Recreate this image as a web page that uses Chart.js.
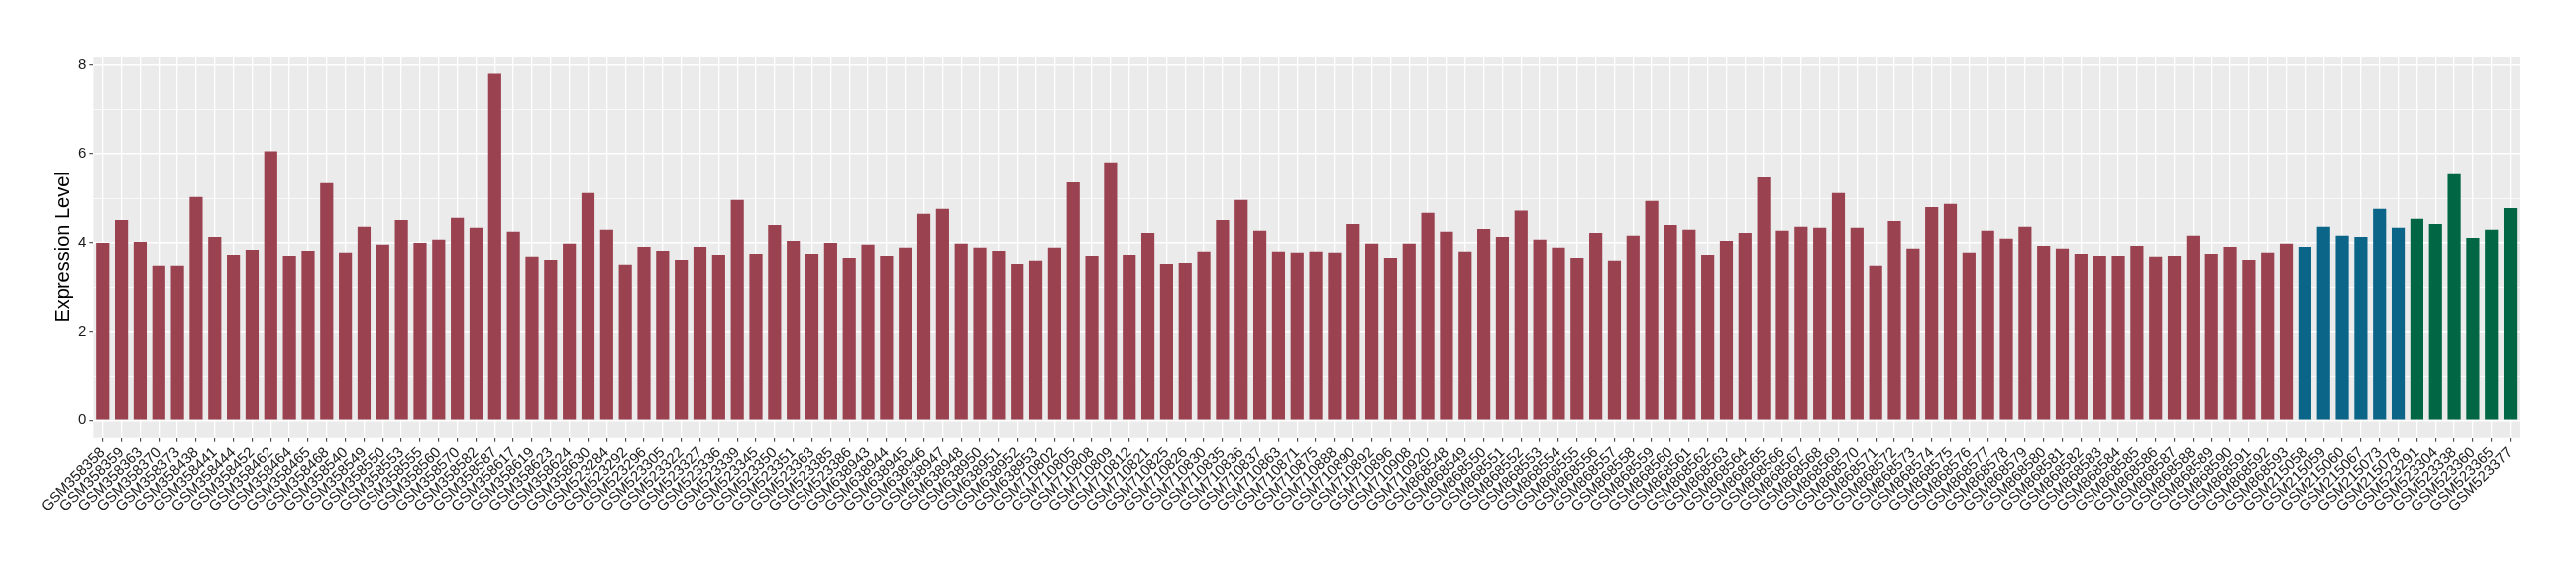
<!DOCTYPE html>
<html>
<head>
<meta charset="utf-8">
<script src="https://cdn.jsdelivr.net/npm/chart.js@4.4.1/dist/chart.umd.min.js"></script>
<style>
  html, body { margin: 0; padding: 0; background: #ffffff; }
  canvas { display: block; }
</style>
</head>
<body>
<canvas id="exprChart" width="2600" height="580"></canvas>
<script>
// samples, first group (red)
var samplesRed = [
    'GSM358358', 'GSM358359', 'GSM358363', 'GSM358370', 'GSM358373', 'GSM358438', 'GSM358441', 'GSM358444',
    'GSM358452', 'GSM358462', 'GSM358464', 'GSM358465', 'GSM358468', 'GSM358540', 'GSM358549', 'GSM358550',
    'GSM358553', 'GSM358555', 'GSM358560', 'GSM358570', 'GSM358582', 'GSM358587', 'GSM358617', 'GSM358619',
    'GSM358623', 'GSM358624', 'GSM358630',
    'GSM523284', 'GSM523292', 'GSM523296', 'GSM523305', 'GSM523322', 'GSM523327', 'GSM523336', 'GSM523339',
    'GSM523345', 'GSM523350', 'GSM523351', 'GSM523363', 'GSM523385', 'GSM523386',
    'GSM638943', 'GSM638944', 'GSM638945', 'GSM638946', 'GSM638947', 'GSM638948', 'GSM638950', 'GSM638951',
    'GSM638952', 'GSM638953',
    'GSM710802', 'GSM710805', 'GSM710808', 'GSM710809', 'GSM710812', 'GSM710821', 'GSM710825', 'GSM710826',
    'GSM710830', 'GSM710835', 'GSM710836', 'GSM710837', 'GSM710863', 'GSM710871', 'GSM710875', 'GSM710888',
    'GSM710890', 'GSM710892', 'GSM710896', 'GSM710908', 'GSM710920',
    'GSM868548', 'GSM868549', 'GSM868550', 'GSM868551', 'GSM868552', 'GSM868553', 'GSM868554', 'GSM868555',
    'GSM868556', 'GSM868557', 'GSM868558', 'GSM868559', 'GSM868560', 'GSM868561', 'GSM868562', 'GSM868563',
    'GSM868564', 'GSM868565', 'GSM868566', 'GSM868567', 'GSM868568', 'GSM868569', 'GSM868570', 'GSM868571',
    'GSM868572', 'GSM868573', 'GSM868574', 'GSM868575', 'GSM868576', 'GSM868577', 'GSM868578', 'GSM868579',
    'GSM868580', 'GSM868581', 'GSM868582', 'GSM868583', 'GSM868584', 'GSM868585', 'GSM868586', 'GSM868587',
    'GSM868588', 'GSM868589', 'GSM868590', 'GSM868591', 'GSM868592', 'GSM868593'
];
var valuesRed = [
    4.00, 4.51, 4.02, 3.49, 3.49, 5.03, 4.13, 3.73,
    3.84, 6.06, 3.71, 3.82, 5.34, 3.78, 4.36, 3.96,
    4.51, 4.00, 4.07, 4.56, 4.34, 7.80, 4.25, 3.69,
    3.62, 3.98, 5.12,
    4.29, 3.51, 3.91, 3.82, 3.62, 3.91, 3.73, 4.96,
    3.75, 4.40, 4.04, 3.75, 4.00, 3.66,
    3.96, 3.71, 3.89, 4.65, 4.76, 3.98, 3.89, 3.82,
    3.53, 3.60,
    3.89, 5.36, 3.71, 5.81, 3.73, 4.22, 3.53, 3.55,
    3.80, 4.51, 4.96, 4.27, 3.80, 3.78, 3.80, 3.78,
    4.42, 3.98, 3.66, 3.98, 4.67,
    4.25, 3.80, 4.31, 4.13, 4.72, 4.07, 3.89, 3.66,
    4.22, 3.60, 4.16, 4.94, 4.40, 4.29, 3.73, 4.04,
    4.22, 5.47, 4.27, 4.36, 4.34, 5.12, 4.34, 3.49,
    4.49, 3.87, 4.80, 4.87, 3.78, 4.27, 4.09, 4.36,
    3.93, 3.87, 3.75, 3.71, 3.71, 3.93, 3.69, 3.71,
    4.16, 3.75, 3.91, 3.62, 3.78, 3.98
];

// second group (blue)
var samplesBlue = ['GSM215058', 'GSM215059', 'GSM215060', 'GSM215067', 'GSM215073', 'GSM215078'];
var valuesBlue = [3.91, 4.36, 4.16, 4.13, 4.76, 4.34];

// third group (green)
var samplesGreen = ['GSM523291', 'GSM523304', 'GSM523338', 'GSM523360', 'GSM523365', 'GSM523377'];
var valuesGreen = [4.54, 4.42, 5.54, 4.11, 4.29, 4.78];

var yTicks = [0, 2, 4, 6, 8];

var labels = samplesRed.concat(samplesBlue, samplesGreen);
var values = valuesRed.concat(valuesBlue, valuesGreen);
var colors = [];
samplesRed.forEach(function () { colors.push('#9b4251'); });
samplesBlue.forEach(function () { colors.push('#0a6588'); });
samplesGreen.forEach(function () { colors.push('#006644'); });

// grey panel behind the grid, ggplot style
var panelBg = {
    id: 'panelBg',
    beforeDraw: function (chart) {
        var a = chart.chartArea;
        var c = chart.ctx;
        c.save();
        c.fillStyle = '#ebebeb';
        c.fillRect(a.left, a.top, a.right - a.left, a.bottom - a.top);
        c.restore();
    }
};

var ctx = document.getElementById('exprChart').getContext('2d');

var exprChart = new Chart(ctx, {
    type: 'bar',
    data: {
        labels: labels,
        datasets: [{
            label: 'Expression Level',
            data: values,
            backgroundColor: colors,
            borderWidth: 0,
            categoryPercentage: 1.0,
            barPercentage: 0.7
        }]
    },
    plugins: [panelBg],
    options: {
        responsive: false,
        maintainAspectRatio: false,
        animation: false,
        layout: {
            padding: { left: 49, right: 57, top: 57, bottom: 58 }
        },
        plugins: {
            legend: { display: false },
            tooltip: { enabled: false }
        },
        scales: {
            x: {
                offset: true,
                border: { display: false },
                grid: {
                    offset: false,
                    color: '#ffffff',
                    lineWidth: 1.3,
                    tickColor: '#333333',
                    tickLength: 4,
                    tickWidth: 1
                },
                ticks: {
                    autoSkip: false,
                    maxRotation: 45,
                    minRotation: 45,
                    padding: 2,
                    color: '#1a1a1a',
                    font: { family: 'Liberation Sans', size: 15 }
                }
            },
            y: {
                min: -0.39,
                max: 8.19,
                border: { display: false },
                grid: {
                    color: '#ffffff',
                    lineWidth: function (c) { return c.tick && yTicks.indexOf(c.tick.value) >= 0 ? 1.4 : 0.7; },
                    tickColor: function (c) { return c.tick && yTicks.indexOf(c.tick.value) >= 0 ? '#333333' : 'rgba(0,0,0,0)'; },
                    tickLength: 4,
                    tickWidth: 1
                },
                ticks: {
                    stepSize: 1,
                    includeBounds: false,
                    padding: 3,
                    color: '#1a1a1a',
                    font: { family: 'Liberation Sans', size: 15 },
                    callback: function (v) { return yTicks.indexOf(v) >= 0 ? String(v) : ''; }
                },
                title: {
                    display: true,
                    text: 'Expression Level',
                    color: '#000000',
                    padding: { top: 3, bottom: 0 },
                    font: { family: 'Liberation Sans', size: 20 }
                }
            }
        }
    }
});
</script>
</body>
</html>
